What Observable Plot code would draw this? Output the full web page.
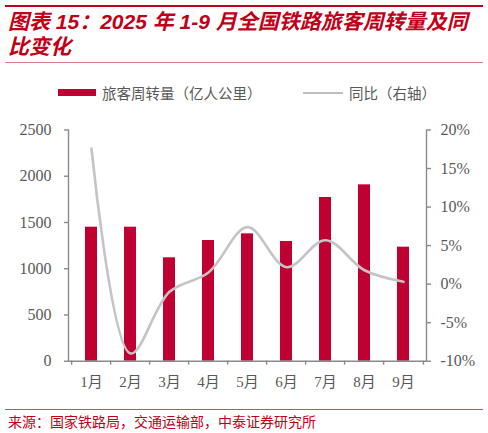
<!DOCTYPE html>
<html><head><meta charset="utf-8">
<script src="https://cdn.jsdelivr.net/npm/d3@7"></script>
<script src="https://cdn.jsdelivr.net/npm/@observablehq/plot@0.6"></script>
<style>
body{margin:0;background:#fff;width:488px;height:433px;position:relative;overflow:hidden;font-family:"Noto Sans CJK SC",sans-serif;}
.abs{position:absolute;}
#topline{left:5px;top:5px;width:478px;height:2px;background:#c00018;}
#title{left:8px;top:9px;font-family:"Liberation Sans","Noto Sans CJK SC",sans-serif;font-weight:bold;font-style:italic;font-size:21px;line-height:25px;color:#c00018;white-space:nowrap;}
#titleline{left:5px;top:61.5px;width:478px;height:1.5px;background:#e07a80;}
#legend{left:0;top:82px;width:488px;height:22px;font-size:14.5px;color:#595959;}
#sw1{left:58px;top:7px;width:38px;height:7px;background:#c00030;}
#lt1{left:102px;top:0px;line-height:21px;}
#sw2{left:303px;top:9.5px;width:40px;height:2.5px;background:#bfbfbf;}
#lt2{left:349px;top:0px;line-height:21px;}
#chart{left:0;top:115px;}
#footline{left:5px;top:409px;width:478px;height:1px;background:#d0505a;}
#source{left:8px;top:412px;font-size:14px;line-height:19px;color:#c00018;white-space:nowrap;}
</style></head><body>
<div id="topline" class="abs"></div>
<div id="title" class="abs">图表 15：2025 年 1-9 月全国铁路旅客周转量及同<br>比变化</div>
<div id="titleline" class="abs"></div>
<div id="legend" class="abs">
  <div id="sw1" class="abs"></div><div id="lt1" class="abs">旅客周转量（亿人公里）</div>
  <div id="sw2" class="abs"></div><div id="lt2" class="abs">同比（右轴）</div>
</div>
<div id="chart" class="abs"></div>
<div id="footline" class="abs"></div>
<div id="source" class="abs">来源：国家铁路局，交通运输部，中泰证券研究所</div>
<script>
const months = ["1月","2月","3月","4月","5月","6月","7月","8月","9月"];
const volume = [1449, 1449, 1118, 1305, 1377, 1294, 1770, 1907, 1233];
const yoy = [17.6, -9.0, -1.0, 1.5, 7.4, 2.2, 5.7, 1.8, 0.3];
const leftTicks = [0, 500, 1000, 1500, 2000, 2500];
const rightTicks = [-10, -5, 0, 5, 10, 15, 20];

const leftMax = 2500, rMin = -10, rMax = 20;
const toLeft = p => (p - rMin) / (rMax - rMin) * leftMax;
const fromLeft = v => Math.round(v / leftMax * (rMax - rMin) + rMin);

const rows = months.map((m, i) => ({month: m, volume: volume[i], yoy: yoy[i]}));

const W = 488, H = 280, ml = 68, mr = 62, mt = 14.5, mb = 34.3;
const step = (W - ml - mr) / months.length;
const axisColor = "#8a8a8a", textColor = "#595959";

const plot = Plot.plot({
  width: W, height: H,
  marginLeft: ml, marginRight: mr, marginTop: mt, marginBottom: mb,
  style: {fontFamily: '"Liberation Serif","Noto Sans CJK SC",serif', fontSize: "16px", color: textColor, background: "transparent"},
  x: {domain: months, paddingInner: 0.7, paddingOuter: 0.35, axis: null},
  y: {domain: [0, leftMax], axis: null},
  marks: [
    Plot.barY(rows, {x: "month", y: "volume", fill: "#c00030"}),
    Plot.line(rows, {x: "month", y: d => toLeft(d.yoy), stroke: "#c4c4c4", strokeWidth: 2.6, curve: "catmull-rom"}),
    Plot.ruleY([0], {stroke: axisColor, strokeWidth: 1.4}),
    Plot.frame({anchor: "left", stroke: axisColor, strokeWidth: 1.4}),
    Plot.frame({anchor: "right", stroke: axisColor, strokeWidth: 1.4}),
    Plot.axisY(leftTicks, {anchor: "left", tickSize: 4, tickPadding: 13, stroke: axisColor, fill: textColor, label: null, strokeWidth: 1.4, tickFormat: v => String(v)}),
    Plot.axisY(rightTicks.map(toLeft), {anchor: "right", tickSize: 4, tickPadding: 10, stroke: axisColor, fill: textColor, label: null, strokeWidth: 1.4, tickFormat: v => fromLeft(v) + "%"}),
    Plot.axisX(months, {anchor: "bottom", tickSize: 4, dx: -step / 2, stroke: axisColor, strokeWidth: 1.4, tickFormat: () => "", label: null}),
    Plot.axisX([months[months.length - 1]], {anchor: "bottom", tickSize: 4, dx: step / 2, stroke: axisColor, strokeWidth: 1.4, tickFormat: () => "", label: null}),
    Plot.axisX(months, {anchor: "bottom", tickSize: 0, tickPadding: 15, fill: textColor, fontSize: 15, label: null})
  ]
});
document.getElementById("chart").appendChild(plot);
</script>
</body></html>
